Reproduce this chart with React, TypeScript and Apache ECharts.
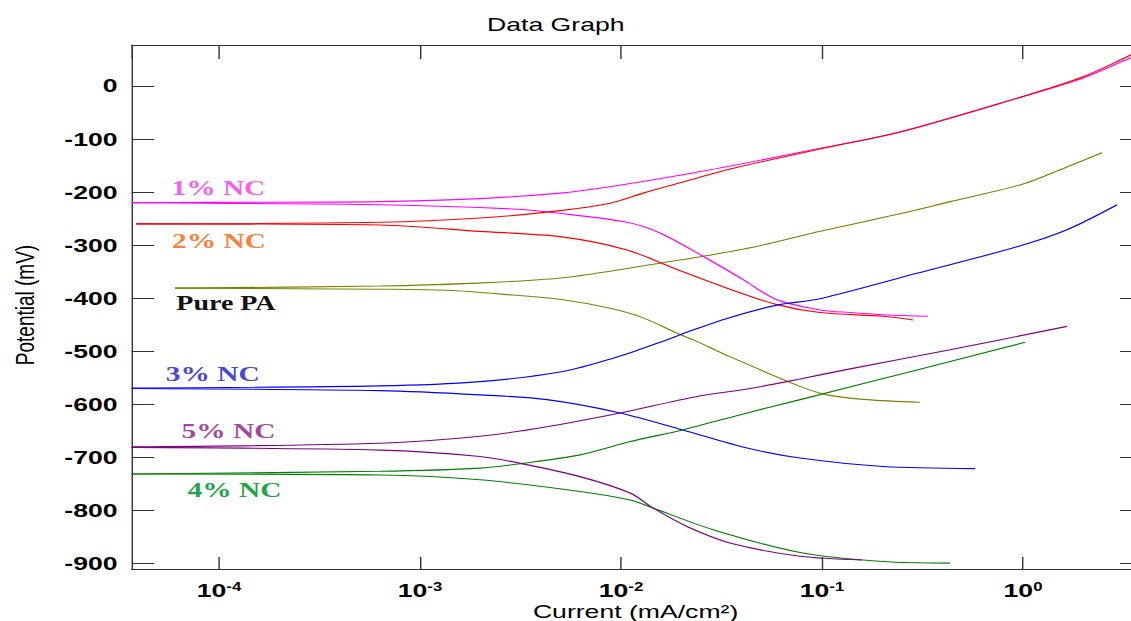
import React, { useEffect, useRef } from "react";
import * as echarts from "echarts";

// The plot is laid out in an 816px-wide frame and widened 1.4x on screen.
const STRETCH = 1.4;
const FRAME_W = 816;
const FRAME_H = 621;

const SANS = '"Liberation Sans", Arial, Helvetica, sans-serif';
const SERIF = '"Liberation Serif", "Times New Roman", Times, serif';

// Axis ranges
const currentMin = 3.674e-5;
const currentMax = 3.926;
const potentialMin = -910;
const potentialMax = 77;
const potentialTicks = [-900, -800, -700, -600, -500, -400, -300, -200, -100, 0];

// Polarization curves. Cathodic branch listed from Ecorr outwards, anodic branch likewise.
// Pure PA
const pureCathCurrent = [0.0000604, 0.000632, 0.00136, 0.0029, 0.00497, 0.00882, 0.0129, 0.019, 0.0228, 0.0348, 0.0778, 0.106, 0.1675, 0.307];
const pureCathPotential = [-381, -383, -385, -394, -402, -419, -437, -466, -478, -510, -566, -582, -591, -596];
const pureAnodCurrent = [0.0000604, 0.000632, 0.00177, 0.00497, 0.0156, 0.0256, 0.0491, 0.0977, 0.244, 0.434, 1, 1.53, 2.47];
const pureAnodPotential = [-381, -377, -372, -362, -334, -321, -301, -274, -241, -218, -185, -158, -126];

// 1% NC
const nc1CathCurrent = [0.0000367, 0.000087, 0.000632, 0.0029, 0.00497, 0.0107, 0.0156, 0.0256, 0.0405, 0.0597, 0.0977, 0.138, 0.201, 0.337];
const nc1CathPotential = [-220, -221, -224, -232, -240, -257, -277, -321, -365, -403, -422, -427, -431, -434];
const nc1AnodCurrent = [0.0000367, 0.000087, 0.000632, 0.00497, 0.0228, 0.1, 0.244, 1, 1.99, 3.44, 3.93];
const nc1AnodPotential = [-220, -219.5, -218, -202, -164, -117, -87, -20, 15, 53, 60];

// 2% NC
const nc2CathCurrent = [0.0000387, 0.000632, 0.00199, 0.00497, 0.0107, 0.019, 0.0337, 0.0597, 0.0977, 0.201, 0.284];
const nc2CathPotential = [-260, -262, -274, -284, -309, -346, -381, -412, -427, -434, -441];
const nc2AnodCurrent = [0.0000387, 0.000632, 0.00199, 0.00497, 0.00882, 0.0129, 0.0228, 0.0337, 0.1, 0.244, 1, 1.99, 3.44, 3.93];
const nc2AnodPotential = [-260, -257, -249, -235, -221, -202, -176, -158, -118, -87, -20, 17, 58, 66];

// 3% NC
const nc3CathCurrent = [0.0000367, 0.000632, 0.00199, 0.00428, 0.00989, 0.0203, 0.0424, 0.0778, 0.201, 0.577];
const nc3CathPotential = [-570, -574, -582, -591, -616, -648, -682, -701, -717, -721];
const nc3AnodCurrent = [0.0000367, 0.000632, 0.00199, 0.00514, 0.00913, 0.0151, 0.0228, 0.0337, 0.0597, 0.0977, 0.297, 0.934, 1.655, 2.94];
const nc3AnodPotential = [-569, -565, -557, -538, -513, -485, -460, -438, -413, -401, -353, -303, -271, -224];

// 4% NC
const nc4CathCurrent = [0.0000367, 0.000632, 0.00199, 0.00625, 0.0111, 0.0144, 0.0287, 0.0778, 0.201, 0.434];
const nc4CathPotential = [-731, -733, -742, -764, -780, -795, -836, -879, -896, -899];
const nc4AnodCurrent = [0.0000367, 0.000632, 0.00199, 0.00325, 0.00625, 0.0111, 0.0203, 0.0424, 0.0778, 0.297, 1.023];
const nc4AnodPotential = [-731, -726, -720, -711, -695, -670, -648, -616, -591, -535, -483];

// 5% NC
const nc5CathCurrent = [0.0000367, 0.000632, 0.00199, 0.00325, 0.00625, 0.0111, 0.0144, 0.0213, 0.0348, 0.0778, 0.158];
const nc5CathPotential = [-681, -686, -698, -712, -736, -767, -795, -830, -861, -886, -893];
const nc5AnodCurrent = [0.0000367, 0.000632, 0.00199, 0.00428, 0.00989, 0.0239, 0.0438, 0.0778, 0.138, 0.434, 1.655];
const nc5AnodPotential = [-680, -673, -660, -642, -616, -585, -570, -552, -533, -497, -453];

const sampleNames = ["Pure PA", "1% NC", "2% NC", "3% NC", "4% NC", "5% NC"];
const lineColors = ["#808000", "#ff00ff", "#ff0000", "#0000ff", "#008000", "#800080"];
const labelColors = ["#111111", "#f55ff5", "#ff7f3a", "#4848d4", "#22a548", "#a447a4"];
// label anchor (frame px): centre of each curve label
const labelAnchors: [number, number][] = [
  [161.4, 303.5],
  [156, 188],
  [156.4, 241.5],
  [152, 374],
  [167.5, 490],
  [163.2, 431.5],
];

const branches: [number[], number[], number[], number[]][] = [
  [pureCathCurrent, pureCathPotential, pureAnodCurrent, pureAnodPotential],
  [nc1CathCurrent, nc1CathPotential, nc1AnodCurrent, nc1AnodPotential],
  [nc2CathCurrent, nc2CathPotential, nc2AnodCurrent, nc2AnodPotential],
  [nc3CathCurrent, nc3CathPotential, nc3AnodCurrent, nc3AnodPotential],
  [nc4CathCurrent, nc4CathPotential, nc4AnodCurrent, nc4AnodPotential],
  [nc5CathCurrent, nc5CathPotential, nc5AnodCurrent, nc5AnodPotential],
];

function pairs(cur: number[], pot: number[]): number[][] {
  return cur.map((c, i) => [c, pot[i]]);
}

const AXIS_COLOR = "#333333";

export default function App() {
  const ref = useRef<HTMLDivElement>(null);

  useEffect(() => {
    if (!ref.current) return;
    const chart = echarts.init(ref.current, null, { renderer: "svg" });

    const branchSeries = (name: string, color: string, data: number[][]) => ({
      name,
      type: "line",
      showSymbol: false,
      symbol: "none",
      silent: true,
      smooth: 0.3,
      lineStyle: { color, width: 1.1 },
      itemStyle: { color },
      data,
    });

    const series = branches.flatMap((b, i) => [
      branchSeries(sampleNames[i], lineColors[i], pairs(b[0], b[1])),
      branchSeries(sampleNames[i], lineColors[i], pairs(b[2], b[3])),
    ]);

    const curveLabels = sampleNames.map((name, i) => ({
      type: "text",
      x: labelAnchors[i][0],
      y: labelAnchors[i][1],
      silent: true,
      style: {
        text: name,
        fill: labelColors[i],
        fontFamily: SERIF,
        fontWeight: "bold",
        fontSize: name === "Pure PA" ? 20 : 21,
        textAlign: "center",
        textVerticalAlign: "middle",
        align: "center",
        verticalAlign: "middle",
      },
    }));

    const axisText = (text: string, x: number, y: number, rotation = 0) => ({
      type: "text",
      x,
      y,
      rotation,
      silent: true,
      style: {
        text,
        fill: "#000",
        fontFamily: SANS,
        fontSize: 19,
        textAlign: "center",
        textVerticalAlign: "middle",
        align: "center",
        verticalAlign: "middle",
      },
    });

    const lineStyle = { color: AXIS_COLOR, width: 1 };

    chart.setOption({
      animation: false,
      backgroundColor: "#ffffff",
      grid: { left: 94, right: 0, top: 45, bottom: 52, containLabel: false },
      xAxis: [
        {
          type: "log",
          logBase: 10,
          min: currentMin,
          max: currentMax,
          position: "bottom",
          axisLine: { show: true, onZero: false, lineStyle },
          axisTick: { show: true, inside: true, length: 12, lineStyle },
          minorTick: { show: false },
          splitLine: { show: false },
          axisLabel: {
            show: true,
            margin: 12,
            showMinLabel: false,
            showMaxLabel: false,
            formatter: (v: number) => `{b|10}{e|${Math.round(Math.log10(v))}}`,
            rich: {
              b: { fontFamily: SANS, fontWeight: "bold", fontSize: 19, lineHeight: 18, color: "#000" },
              e: { fontFamily: SANS, fontWeight: "bold", fontSize: 12, color: "#000", verticalAlign: "top", padding: [0, 0, 7, 0] },
            },
          },
        },
        {
          type: "log",
          logBase: 10,
          min: currentMin,
          max: currentMax,
          position: "top",
          axisLine: { show: true, onZero: false, lineStyle },
          axisTick: { show: true, inside: true, length: 14, lineStyle },
          minorTick: { show: false },
          splitLine: { show: false },
          axisLabel: { show: false },
        },
      ],
      yAxis: [
        {
          type: "value",
          min: potentialMin,
          max: potentialMax,
          position: "left",
          axisLine: { show: true, onZero: false, lineStyle },
          axisTick: { show: true, inside: true, length: 16, lineStyle, customValues: potentialTicks },
          splitLine: { show: false },
          axisLabel: {
            show: true,
            customValues: potentialTicks,
            margin: 10,
            fontFamily: SANS,
            fontWeight: "bold",
            fontSize: 19,
            color: "#000",
          },
        },
        {
          type: "value",
          min: potentialMin,
          max: potentialMax,
          position: "right",
          axisLine: { show: true, onZero: false, lineStyle },
          axisTick: { show: true, inside: true, length: 16, lineStyle, customValues: potentialTicks },
          splitLine: { show: false },
          axisLabel: { show: false },
        },
      ],
      graphic: [
        axisText("Data Graph", 397, 24.5),
        axisText("Current (mA/cm²)", 454, 611),
        axisText("Potential (mV)", 18, 305, Math.PI / 2),
        ...curveLabels,
      ],
      series,
    });

    return () => chart.dispose();
  }, []);

  return (
    <div
      ref={ref}
      style={{
        position: "fixed",
        left: 0,
        top: 0,
        width: FRAME_W,
        height: FRAME_H,
        transform: `scaleX(${STRETCH})`,
        transformOrigin: "0 0",
        background: "#fff",
      }}
    />
  );
}
